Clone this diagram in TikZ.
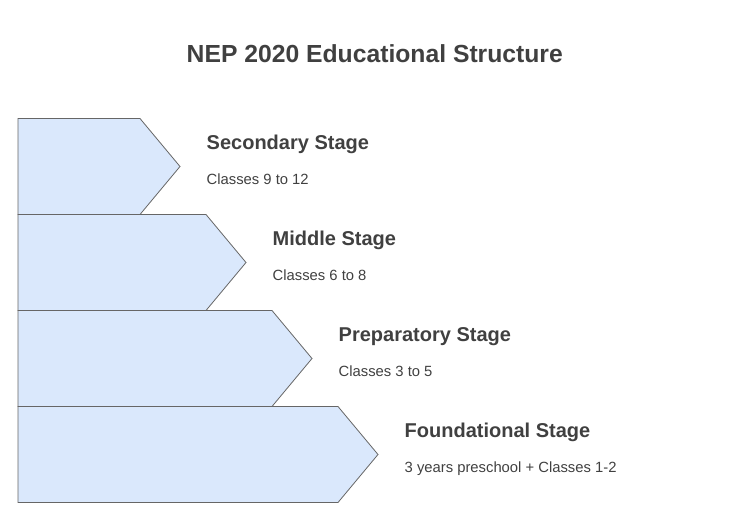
\documentclass[tikz,border=0pt]{standalone}
\usepackage{fontspec}
\setmainfont{Liberation Sans}
\usepackage{tikz}

\definecolor{stagefill}{HTML}{DAE8FC}
\definecolor{stageline}{HTML}{666666}
\definecolor{stagetext}{HTML}{404040}

\begin{document}
\begin{tikzpicture}[x=1pt, y=-1pt, every node/.style={text=stagetext, inner sep=0pt}]
    \useasboundingbox (0,0) rectangle (748,523);
    % Heading
    \node[font=\bfseries\fontsize{24.7}{29}\selectfont, anchor=base] (heading) at (374.8,62.5) {NEP 2020 Educational Structure};

    % Stages, top to bottom
    \foreach \i/\stagename/\stageclasses in {0/secondary/Classes 9 to 12, 1/middle/Classes 6 to 8, 2/preparatory/Classes 3 to 5, 3/foundational/3 years preschool + Classes 1-2} {
        \pgfmathsetmacro{\ytop}{118.5+96*\i}
        \pgfmathsetmacro{\xflat}{140+66*\i}
        \draw[fill=stagefill, draw=stageline, line width=0.8pt, line join=miter]
            (18,\ytop) -- (\xflat,\ytop) -- (\xflat+40,\ytop+48) -- (\xflat,\ytop+96) -- (18,\ytop+96) -- cycle;
        \node[font=\fontsize{14.8}{18}\selectfont, anchor=base west] (\stagename-classes) at (\xflat+66.5,\ytop+65.5) {\stageclasses};
    }
    \node[font=\bfseries\fontsize{20}{24}\selectfont, anchor=base west] (secondary-label) at (206.5,149.5) {Secondary Stage};
    \node[font=\bfseries\fontsize{20}{24}\selectfont, anchor=base west] (middle-label) at (272.5,245.5) {Middle Stage};
    \node[font=\bfseries\fontsize{20}{24}\selectfont, anchor=base west] (preparatory-label) at (338.5,341.5) {Preparatory Stage};
    \node[font=\bfseries\fontsize{20}{24}\selectfont, anchor=base west] (foundational-label) at (404.5,437.5) {Foundational Stage};
\end{tikzpicture}
\end{document}
